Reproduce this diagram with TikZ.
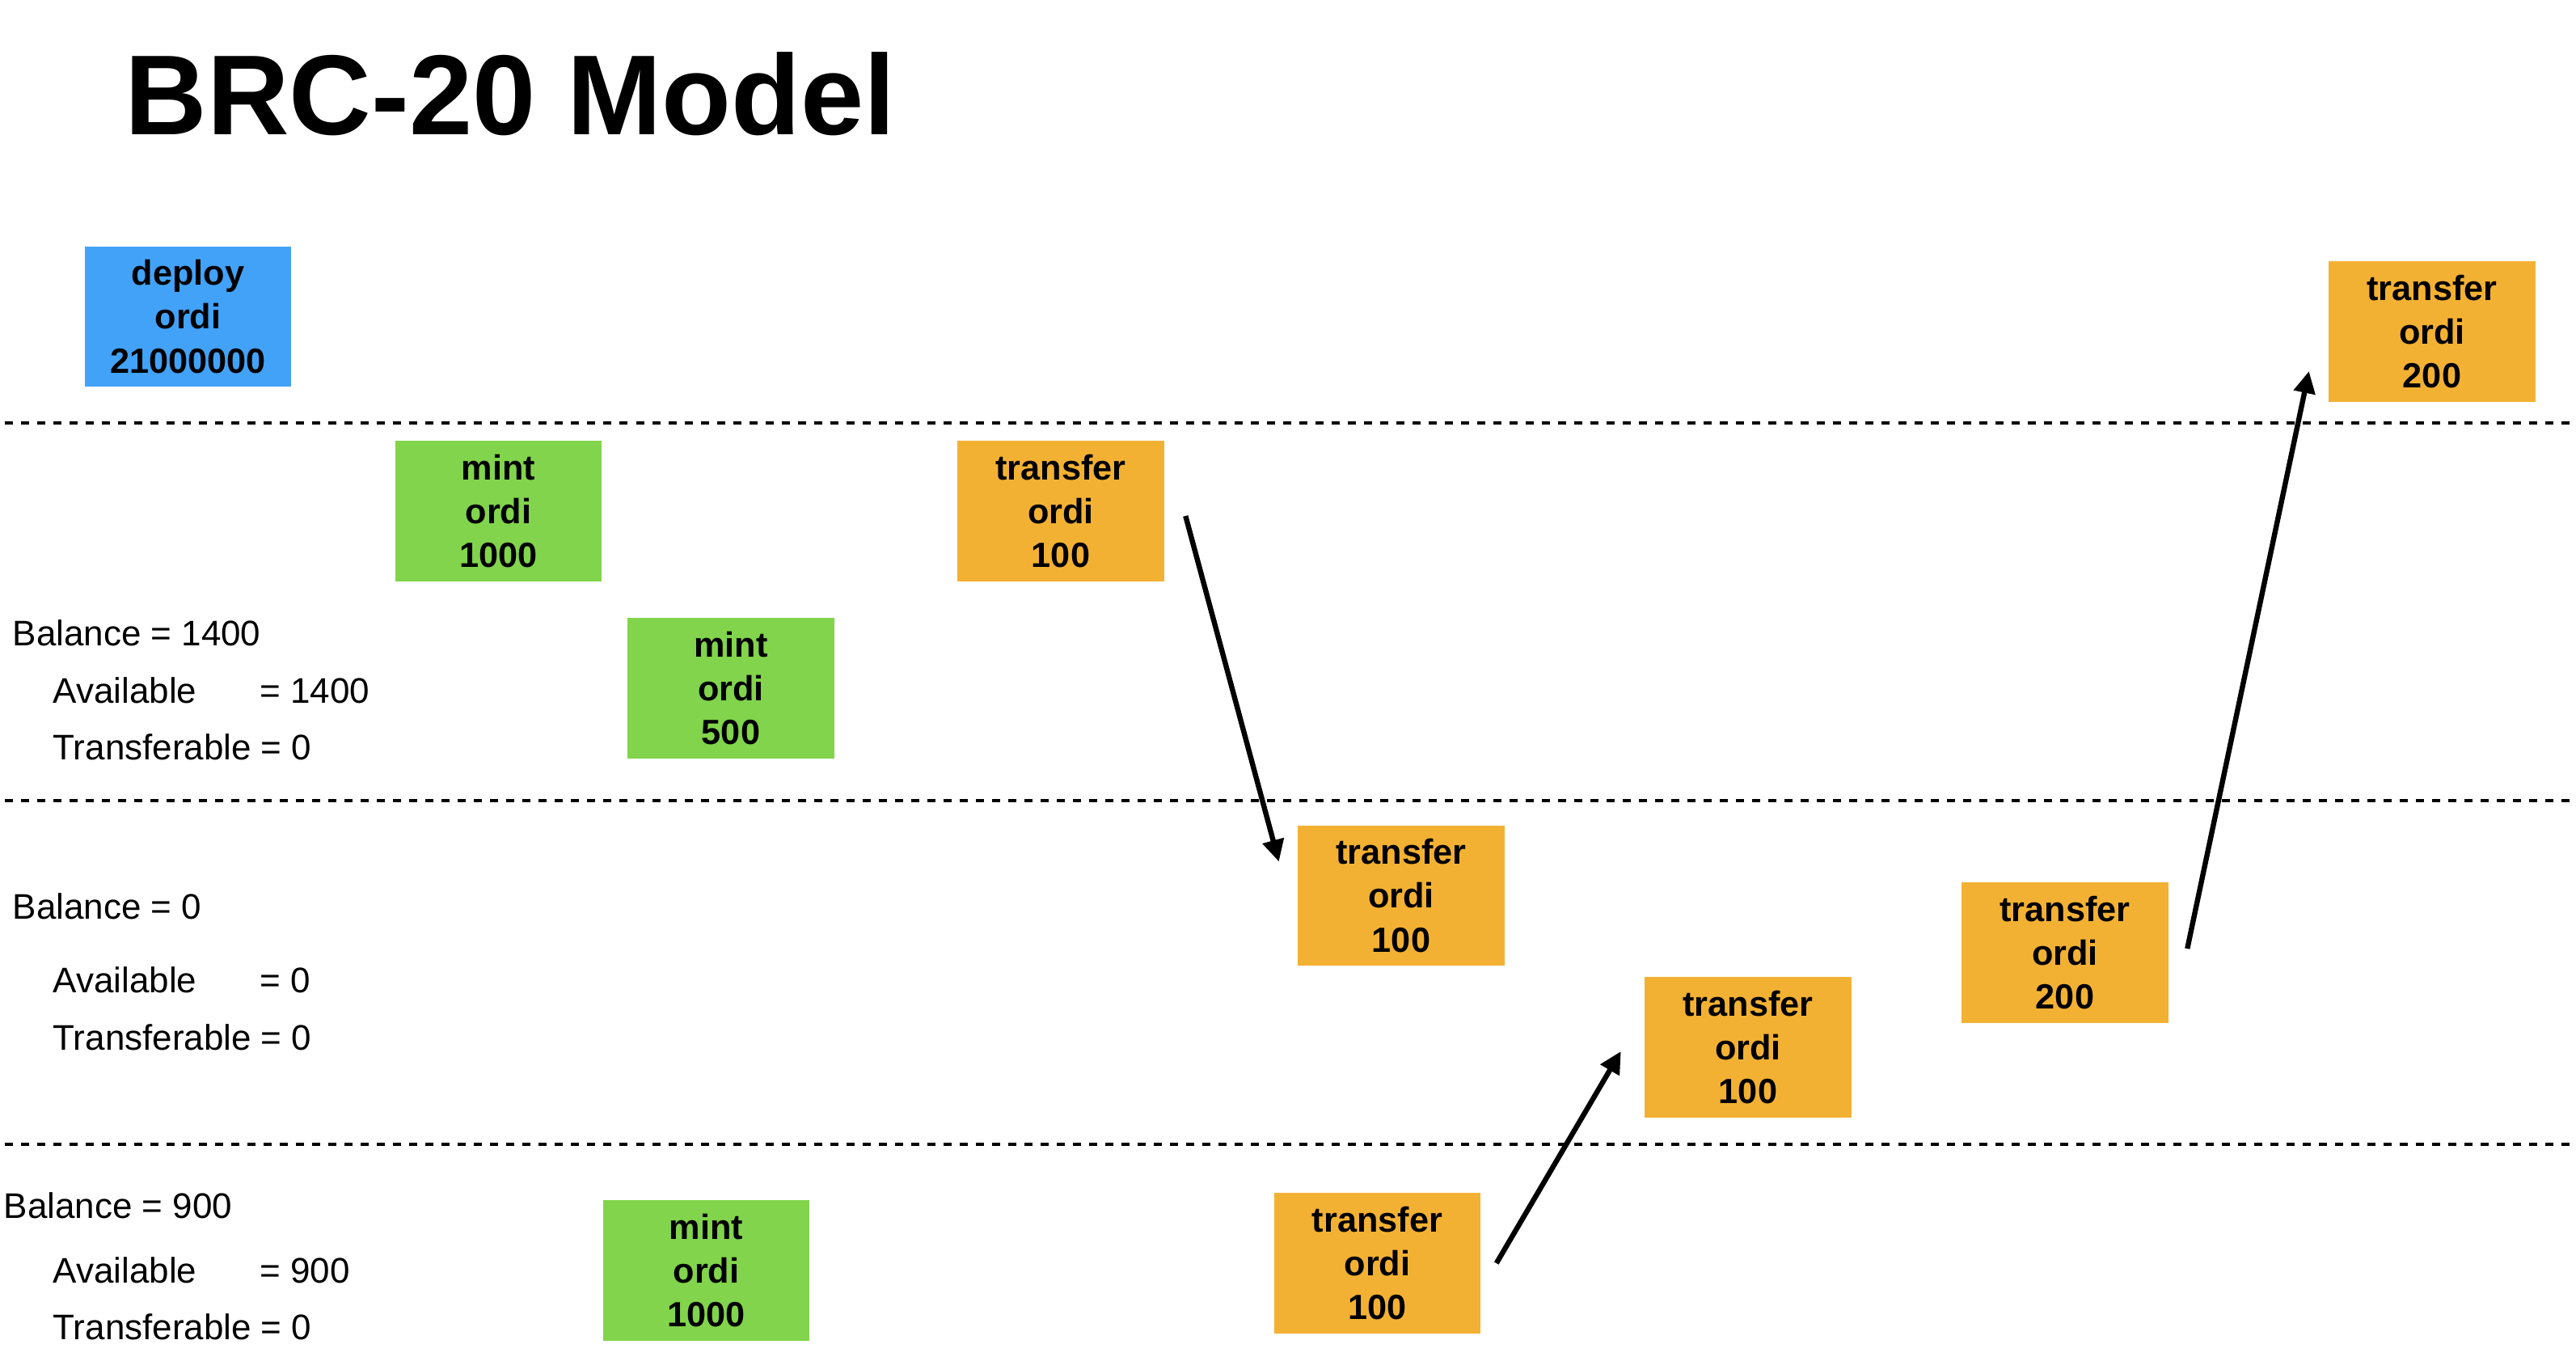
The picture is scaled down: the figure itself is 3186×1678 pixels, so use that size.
\documentclass[tikz,border=0pt]{standalone}
\usepackage{fontspec}
\setmainfont{Liberation Sans}
\usetikzlibrary{arrows.meta,calc}
\definecolor{deployblue}{HTML}{42A2F8}
\definecolor{mintgreen}{HTML}{81D44B}
\definecolor{xferorange}{HTML}{F3B133}
\begin{document}
\begin{tikzpicture}[
        x=0.01cm, y=-0.01cm,
        op/.style={inner sep=0pt, minimum width=2.55cm, minimum height=1.73cm, align=center,
            font=\fontsize{12.3pt}{15.4pt}\selectfont\bfseries},
        deploy/.style={op, fill=deployblue},
        mint/.style={op, fill=mintgreen},
        xfer/.style={op, fill=xferorange},
        lbl/.style={anchor=base west, inner sep=0pt, font=\fontsize{12.5pt}{15pt}\selectfont},
        divider/.style={line width=0.045cm, dash pattern=on 0.1cm off 0.1cm},
        hop/.style={-{Triangle[length=0.27cm,width=0.26cm]}, line width=0.064cm}
    ]
        \useasboundingbox (0,0) rectangle (3186,1678);

        % Title
        \node[anchor=base west, inner sep=0pt, font=\fontsize{40pt}{48pt}\selectfont\bfseries]
            (title) at (154,166) {BRC-20 Model};

        % Dividers
        \foreach \yy in {523,990,1415}
            \draw[divider] (6,\yy) -- (3186,\yy);

        % Balances
        \node[lbl] (bal1) at (15,798) {Balance = 1400};
        \node[lbl] (av1) at (65,869) {Available};
        \node[lbl] (avn1) at (321,869) {= 1400};
        \node[lbl] (tr1) at (65,939) {Transferable = 0};

        \node[lbl] (bal2) at (15,1136) {Balance = 0};
        \node[lbl] (av2) at (65,1227) {Available};
        \node[lbl] (avn2) at (321,1227) {= 0};
        \node[lbl] (tr2) at (65,1298) {Transferable = 0};

        \node[lbl] (bal3) at (4,1506) {Balance = 900};
        \node[lbl] (av3) at (65,1586) {Available};
        \node[lbl] (avn3) at (321,1586) {= 900};
        \node[lbl] (tr3) at (65,1656) {Transferable = 0};

        % Inscriptions
        \node[deploy] (dep) at (232.5,391.5) {deploy\\ordi\\21000000};
        \node[mint] (mint1) at (616.5,632) {mint\\ordi\\1000};
        \node[mint] (mint2) at (904,851) {mint\\ordi\\500};
        \node[mint] (mint3) at (873.5,1571) {mint\\ordi\\1000};

        \node[xfer] (tx1) at (1312,632) {transfer\\ordi\\100};
        \node[xfer] (tx2) at (1733,1107.5) {transfer\\ordi\\100};
        \node[xfer] (tx3) at (1703.5,1562) {transfer\\ordi\\100};
        \node[xfer] (tx4) at (2162,1295) {transfer\\ordi\\100};
        \node[xfer] (tx5) at (2554,1178) {transfer\\ordi\\200};
        \node[xfer] (tx6) at (3008,410) {transfer\\ordi\\200};

        % Moves
        \draw[hop] ($(tx1.east)+(26,6)$) -- ($(tx2.west)+(-23,-42)$);
        \draw[hop] ($(tx3.east)+(19,0)$) -- ($(tx4.west)+(-29,5)$);
        \draw[hop] ($(tx5.east)+(23,-5)$) -- ($(tx6.west)+(-24,49)$);

    \end{tikzpicture}
\end{document}
